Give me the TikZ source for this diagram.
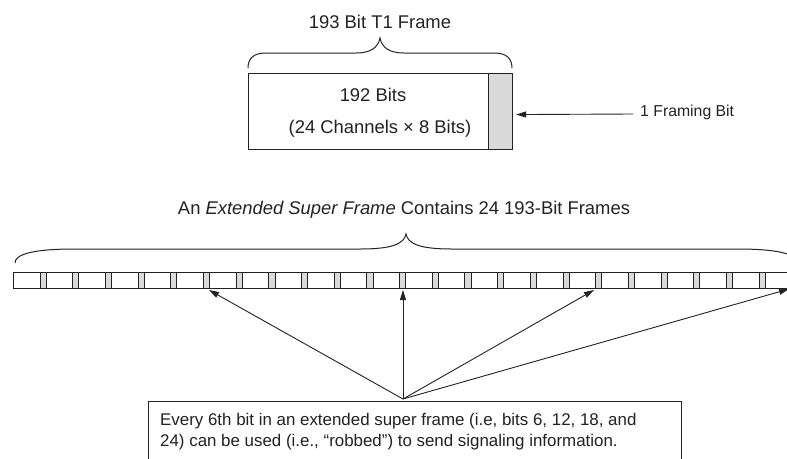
\documentclass[tikz,border=0pt]{standalone}
\usepackage{fontspec}
\setmainfont{Liberation Sans}
\usetikzlibrary{arrows.meta}
\definecolor{ink}{HTML}{222222}
\definecolor{bitgray}{HTML}{DADADA}
\tikzset{
  cellbox/.style={draw=ink, line width=1.1pt, fill=white, inner sep=0pt, anchor=north west},
  bitbox/.style={draw=ink, line width=1.1pt, fill=bitgray, inner sep=0pt, anchor=north west},
  stripline/.style={line width=0.9pt},
  brace line/.style={draw=ink, line width=1pt},
  lbl/.style={text=ink, inner sep=0pt, font=\fontsize{18.4}{22}\selectfont},
  pointer/.style={draw=ink, line width=0.9pt, -{Triangle[length=10pt,width=6pt]}},
}
\begin{document}
\begin{tikzpicture}[x=1pt, y=-1pt]
\useasboundingbox (0,0) rectangle (787,458);
\clip (0,0) rectangle (787,458);

% ---- a single 193-bit T1 frame ----
\node[lbl] (t1title) at (380,22) {193 Bit T1 Frame};
\draw[brace line] (248,68) .. controls (248,58) and (254,53) .. (266,53)
  -- (356,53) .. controls (370,53) and (378,48) .. (380,38)
  .. controls (382,48) and (390,53) .. (404,53)
  -- (494,53) .. controls (506,53) and (512,58) .. (512,68);
\node[cellbox, minimum width=240pt, minimum height=76pt] (payload) at (248,73) {};
\node[bitbox, minimum width=24pt, minimum height=76pt] (fbit) at (488,73) {};
\node[lbl] (bits) at (373,95) {192 Bits};
\node[lbl] (chans) at (380,129) {(24 Channels × 8 Bits)};
\node[lbl, anchor=west, font=\fontsize{15.8}{19}\selectfont] (fblabel) at (640,112) {1 Framing Bit};
\draw[pointer] ([xshift=-7pt,yshift=-2pt]fblabel.west) -- ([xshift=3pt,yshift=-3pt]fbit.east);

% ---- extended super frame: 24 frames ----
\node[lbl] (esftitle) at (404,210) {An \textit{Extended Super Frame} Contains 24 193-Bit Frames};
\draw[brace line] (15,263) .. controls (15,255) and (30,249) .. (75,249)
  -- (360,249) .. controls (392,249) and (404,244) .. (406,234)
  .. controls (408,244) and (420,249) .. (452,249)
  -- (737,249) .. controls (782,249) and (797,255) .. (797,263);
\foreach \k in {0,...,23}{
  \pgfmathsetmacro{\s}{13+32.69*\k}
  \node[cellbox, stripline, minimum width=26.5pt, minimum height=16pt] (f\k) at (\s,272) {};
  \node[bitbox, stripline, minimum width=6.19pt, minimum height=16pt] (g\k) at (\s+26.5,272) {};
}

% ---- robbed-bit note ----
\node[draw=ink, line width=1.1pt, fill=white, anchor=north west, minimum width=533pt,
      minimum height=80pt, inner sep=0pt] (note) at (148,401) {};
\node[lbl, anchor=north west, align=left, font=\fontsize{16.9}{21.5}\selectfont] (notetext) at (160,413)
  {Every 6th bit in an extended super frame (i.e, bits 6, 12, 18, and\\
   24) can be used (i.e., “robbed”) to send signaling information.};

\coordinate (src) at (403,399);
\coordinate (tip6) at (209,290);
\coordinate (tip12) at (403,290);
\coordinate (tip18) at (594,290);
\coordinate (tip24) at (789,289);
\foreach \t in {tip6,tip12,tip18,tip24}
  \draw[pointer] (src) -- (\t);
\end{tikzpicture}
\end{document}
